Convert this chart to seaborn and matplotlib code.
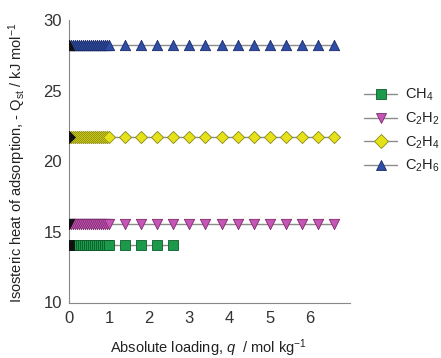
import matplotlib
matplotlib.use("Agg")
import matplotlib.pyplot as plt
from matplotlib.lines import Line2D
from matplotlib.ticker import MultipleLocator
import seaborn as sns
import pandas as pd

sns.set_theme(style="white")
plt.rcParams['font.family'] = ['Liberation Sans', 'DejaVu Sans']
plt.rcParams['mathtext.fontset'] = 'custom'
plt.rcParams['mathtext.rm'] = 'Liberation Sans'
plt.rcParams['mathtext.it'] = 'Liberation Sans:italic'

# ---- data ----
species = ["CH$_4$", "C$_2$H$_2$", "C$_2$H$_4$", "C$_2$H$_6$"]
dense_x = [0.0, 0.05, 0.1, 0.15, 0.2, 0.25, 0.3, 0.35, 0.4, 0.45, 0.5,
           0.55, 0.6, 0.65, 0.7, 0.75, 0.8, 0.85, 0.9, 0.95, 1.0]
ch4_sparse_x = [1.4, 1.8, 2.2, 2.6]
other_sparse_x = [1.4, 1.8, 2.2, 2.6, 3.0, 3.4, 3.8, 4.2, 4.6, 5.0, 5.4, 5.8, 6.2, 6.6]
qst_values = [14.05, 15.55, 21.75, 28.25]
x_ticks = [0, 1, 2, 3, 4, 5, 6]
y_ticks = [10, 15, 20, 25, 30]

colors = ["#1a9a4a", "#c655b5", "#e6e21a", "#2f4fa6"]
edges = ["#0f5a2a", "#7a2a6c", "#8a8a10", "#1a2a66"]
markers = ["s", "v", "D", "^"]
sizes = [42, 55, 38, 55]

rows = []
for i, name in enumerate(species):
    xs = dense_x + (ch4_sparse_x if i == 0 else other_sparse_x)
    for x in xs:
        rows.append({"species": name, "q": x, "Qst": qst_values[i]})
df = pd.DataFrame(rows)

fig = plt.figure(figsize=(4.41, 3.58), dpi=100)
ax = fig.add_axes([69/441, 1-302.5/358, (350-69)/441, (302.5-20)/358])

for i, name in enumerate(species):
    sub = df[df["species"] == name]
    sns.lineplot(data=sub, x="q", y="Qst", ax=ax, color="#8c8c8c", lw=1.0,
                 estimator=None, sort=True, legend=False, zorder=2)
    sns.scatterplot(data=sub, x="q", y="Qst", ax=ax, marker=markers[i],
                    color=colors[i], edgecolor=edges[i], linewidth=0.6,
                    s=sizes[i], legend=False, zorder=3)
    # dark markers at near-zero loading
    sns.scatterplot(data=sub[sub["q"] == 0.0], x="q", y="Qst", ax=ax,
                    marker=markers[i], color="#111111", edgecolor="#111111",
                    s=sizes[i], legend=False, zorder=4)

ax.set_xlim(0, 7)
ax.set_ylim(10, 30)
ax.set_xticks(x_ticks)
ax.xaxis.set_minor_locator(MultipleLocator(0.2))
ax.set_yticks(y_ticks)
ax.yaxis.set_minor_locator(MultipleLocator(1))
ax.tick_params(which="both", direction="in", colors="#888888",
               labelcolor="#333333", labelsize=12)
ax.tick_params(which="major", length=5, width=0.8)
ax.tick_params(which="minor", length=3, width=0.6)
ax.tick_params(axis="x", which="major", pad=6)
ax.tick_params(axis="y", which="major", pad=5)
for s in ["top", "right"]:
    ax.spines[s].set_visible(False)
for s in ["left", "bottom"]:
    ax.spines[s].set_color("#888888")
    ax.spines[s].set_linewidth(0.8)

ax.set_xlabel("Absolute loading, $q$  / mol kg$^{-1}$", fontsize=10.5, color="#222222")
ax.xaxis.label.set_va("center")
ax.xaxis.set_label_coords((209-69)/281, -(348-302.5)/282.5)
ax.set_ylabel("Isosteric heat of adsorption, - Q$_{\\rm st}$ / kJ mol$^{-1}$",
              fontsize=10.5, color="#222222")
ax.yaxis.label.set_va("center")
ax.yaxis.set_label_coords(-(69-17)/281, (302.5-163)/282.5)

handles = [Line2D([0], [0], color="#8c8c8c", lw=1.0, marker=markers[i],
                  markerfacecolor=colors[i], markeredgecolor=edges[i],
                  markeredgewidth=0.6, markersize=7)
           for i in range(4)]
fig.legend(handles, species, loc="upper left", bbox_to_anchor=(361/441, 1-84/358),
           frameon=False, fontsize=10.5, handlelength=2.3, handletextpad=0.55,
           labelspacing=0.5, borderaxespad=0, borderpad=0.2, labelcolor="#222222")

fig.savefig("out.png", dpi=100)
